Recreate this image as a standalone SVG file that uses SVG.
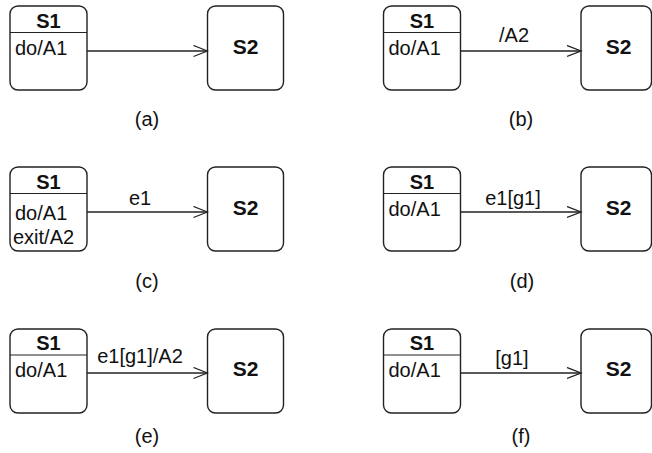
<svg xmlns="http://www.w3.org/2000/svg" width="652" height="453" viewBox="0 0 652 453">
<defs>
<style>
.box{fill:#fff;stroke:#222;stroke-width:1.4}
.div{stroke:#222;stroke-width:1.2}
.t{font-family:"Liberation Sans",Arial,sans-serif;font-size:20px;fill:#111}
.b{font-family:"Liberation Sans",Arial,sans-serif;font-size:20px;font-weight:bold;fill:#111;text-anchor:middle}
.s2{font-family:"Liberation Sans",Arial,sans-serif;font-size:21px;font-weight:bold;fill:#111;text-anchor:middle}
.c{text-anchor:middle}
.edge{stroke:#222;stroke-width:1.4;fill:none}
</style>
<marker id="arr" markerWidth="16" markerHeight="14" refX="14.5" refY="6" orient="auto" markerUnits="userSpaceOnUse">
<path d="M0.5,0.5 L14.5,6 L0.5,11.5" fill="none" stroke="#222" stroke-width="1.3"/>
</marker>
</defs>
<rect width="652" height="453" fill="#fff"/>

<g id="a-S1"><rect class="box" x="10" y="6" width="77" height="84" rx="8"/><line class="div" x1="10" y1="32.5" x2="87" y2="32.5"/><text class="b" x="48.5" y="27.5">S1</text><text class="t" x="15" y="55">do/A1</text></g>
<g id="a-S2"><rect class="box" x="207.5" y="6" width="76" height="84" rx="8"/><text class="s2" x="245.5" y="53.5">S2</text></g>
<g id="b-S1"><rect class="box" x="383.5" y="6" width="77" height="84" rx="8"/><line class="div" x1="383.5" y1="32.5" x2="460.5" y2="32.5"/><text class="b" x="422" y="27.5">S1</text><text class="t" x="388.5" y="55">do/A1</text></g>
<g id="b-S2"><rect class="box" x="581" y="6" width="70.5" height="84" rx="8"/><text class="s2" x="618.5" y="53.5">S2</text></g>

<g id="c-S1"><rect class="box" x="10" y="167" width="77" height="84" rx="8"/><line class="div" x1="10" y1="193.5" x2="87" y2="193.5"/><text class="b" x="48.5" y="188.5">S1</text><text class="t" x="15" y="220">do/A1</text><text class="t" x="13" y="244">exit/A2</text></g>
<g id="c-S2"><rect class="box" x="207.5" y="167" width="76" height="84" rx="8"/><text class="s2" x="245.5" y="214.5">S2</text></g>
<g id="d-S1"><rect class="box" x="383.5" y="167" width="77" height="84" rx="8"/><line class="div" x1="383.5" y1="193.5" x2="460.5" y2="193.5"/><text class="b" x="422" y="188.5">S1</text><text class="t" x="388.5" y="216">do/A1</text></g>
<g id="d-S2"><rect class="box" x="581" y="167" width="70.5" height="84" rx="8"/><text class="s2" x="618.5" y="214.5">S2</text></g>

<g id="e-S1"><rect class="box" x="10" y="329" width="77" height="84" rx="8"/><line class="div" x1="10" y1="355" x2="87" y2="355"/><text class="b" x="48.5" y="350">S1</text><text class="t" x="15" y="377">do/A1</text></g>
<g id="e-S2"><rect class="box" x="207.5" y="329" width="76" height="84" rx="8"/><text class="s2" x="245.5" y="376">S2</text></g>
<g id="f-S1"><rect class="box" x="383.5" y="329" width="77" height="84" rx="8"/><line class="div" x1="383.5" y1="355" x2="460.5" y2="355"/><text class="b" x="422" y="350">S1</text><text class="t" x="388.5" y="377">do/A1</text></g>
<g id="f-S2"><rect class="box" x="581" y="329" width="70.5" height="84" rx="8"/><text class="s2" x="618.5" y="376">S2</text></g>

<g id="connectors">
<line class="edge" x1="87" y1="51" x2="207.5" y2="51" marker-end="url(#arr)"/>
<line class="edge" x1="460.5" y1="51" x2="581" y2="51" marker-end="url(#arr)"/>
<text class="t c" x="514" y="42">/A2</text>
<line class="edge" x1="87" y1="212" x2="207.5" y2="212" marker-end="url(#arr)"/>
<text class="t c" x="140" y="205">e1</text>
<line class="edge" x1="460.5" y1="212" x2="581" y2="212" marker-end="url(#arr)"/>
<text class="t c" x="513" y="205">e1[g1]</text>
<line class="edge" x1="87" y1="373" x2="207.5" y2="373" marker-end="url(#arr)"/>
<text class="t c" x="140" y="363">e1[g1]/A2</text>
<line class="edge" x1="460.5" y1="373" x2="581" y2="373" marker-end="url(#arr)"/>
<text class="t c" x="512" y="365">[g1]</text>
</g>

<g id="captions">
<text class="t c" x="147" y="126">(a)</text>
<text class="t c" x="521" y="126">(b)</text>
<text class="t c" x="147" y="288">(c)</text>
<text class="t c" x="522" y="288">(d)</text>
<text class="t c" x="147" y="443">(e)</text>
<text class="t c" x="521" y="443">(f)</text>
</g>
</svg>
